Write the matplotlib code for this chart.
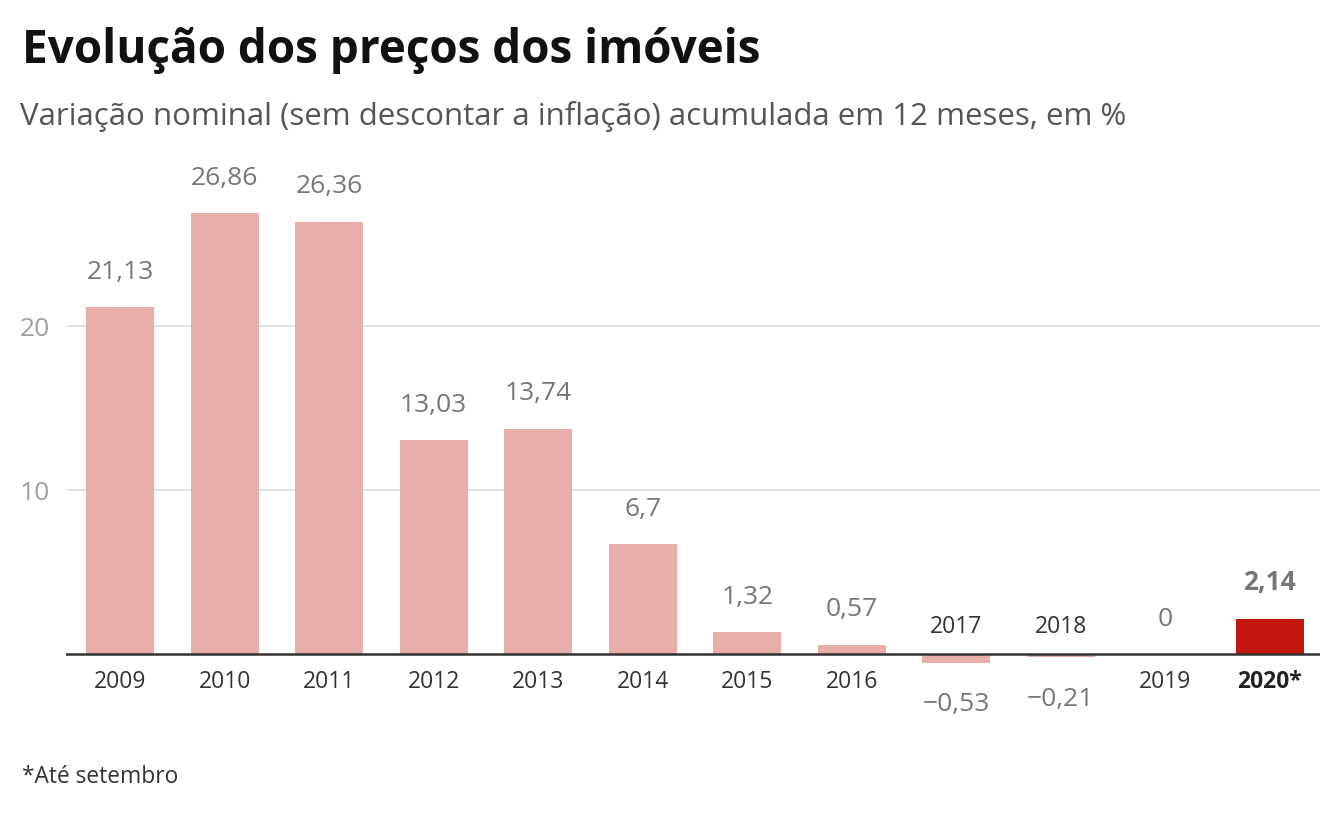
import numpy as np
import matplotlib.pyplot as plt

plt.rcParams['font.family'] = ['Open Sans', 'DejaVu Sans']

# Data
years = ['2009', '2010', '2011', '2012', '2013', '2014', '2015', '2016',
         '2017', '2018', '2019', '2020*']
values = [21.13, 26.86, 26.36, 13.03, 13.74, 6.7, 1.32, 0.57,
          -0.53, -0.21, 0, 2.14]
value_labels = ['21,13', '26,86', '26,36', '13,03', '13,74', '6,7', '1,32',
                '0,57', '\u22120,53', '\u22120,21', '0', '2,14']

light = '#e8aeab'
dark = '#c4170f'

fig = plt.figure(figsize=(13.4, 8.4), dpi=100)
ax = fig.add_axes([66 / 1340, 1 - 719.6 / 840, (1320 - 66) / 1340, (719.6 - 162) / 840])

x = np.arange(len(years))
colors = [light] * (len(years) - 1) + [dark]
ax.bar(x, values, width=0.65, color=colors, zorder=2)

ax.set_xlim(-0.517, 11.48)
ax.set_ylim(-4, 30)

# gridlines and baseline
ax.set_yticks([10, 20])
ax.yaxis.grid(True, color='#e2e2e2', linewidth=1.5, zorder=0)
ax.axhline(0, color='#333333', linewidth=1.8, zorder=3)
ax.tick_params(axis='y', length=0, pad=11.5, labelsize=19, labelcolor='#a0a0a0')
ax.set_xticks([])
for s in ax.spines.values():
    s.set_visible(False)

for i, (v, lab, yr) in enumerate(zip(values, value_labels, years)):
    last = i == len(years) - 1
    weight = 'bold' if last else 'normal'
    if v >= 0:
        ax.annotate(lab, (i, v), xytext=(0, 20.5), textcoords='offset points',
                    ha='center', va='baseline', fontsize=19, color='#777777',
                    fontweight=weight)
        ax.annotate(yr, (i, 0), xytext=(0, -20), textcoords='offset points',
                    ha='center', va='center', fontsize=16.5,
                    color='#222222' if last else '#333333', fontweight=weight)
    else:
        ax.annotate(lab, (i, v), xytext=(0, -21), textcoords='offset points',
                    ha='center', va='top', fontsize=19, color='#777777')
        ax.annotate(yr, (i, 0), xytext=(0, 11), textcoords='offset points',
                    ha='center', va='bottom', fontsize=16.5, color='#333333')

fig.text(22 / 1340, 1 - 50 / 840, 'Evolução dos preços dos imóveis', fontsize=33,
         fontweight='bold', color='#111111', va='center', ha='left')
fig.text(20 / 1340, 1 - 117 / 840,
         'Variação nominal (sem descontar a inflação) acumulada em 12 meses, em %',
         fontsize=22.5, color='#555555', va='center', ha='left')
fig.text(22 / 1340, 1 - 777 / 840, '*Até setembro', fontsize=16.4, color='#333333',
         va='center', ha='left')

fig.savefig('out.png', dpi=100, facecolor='white')
